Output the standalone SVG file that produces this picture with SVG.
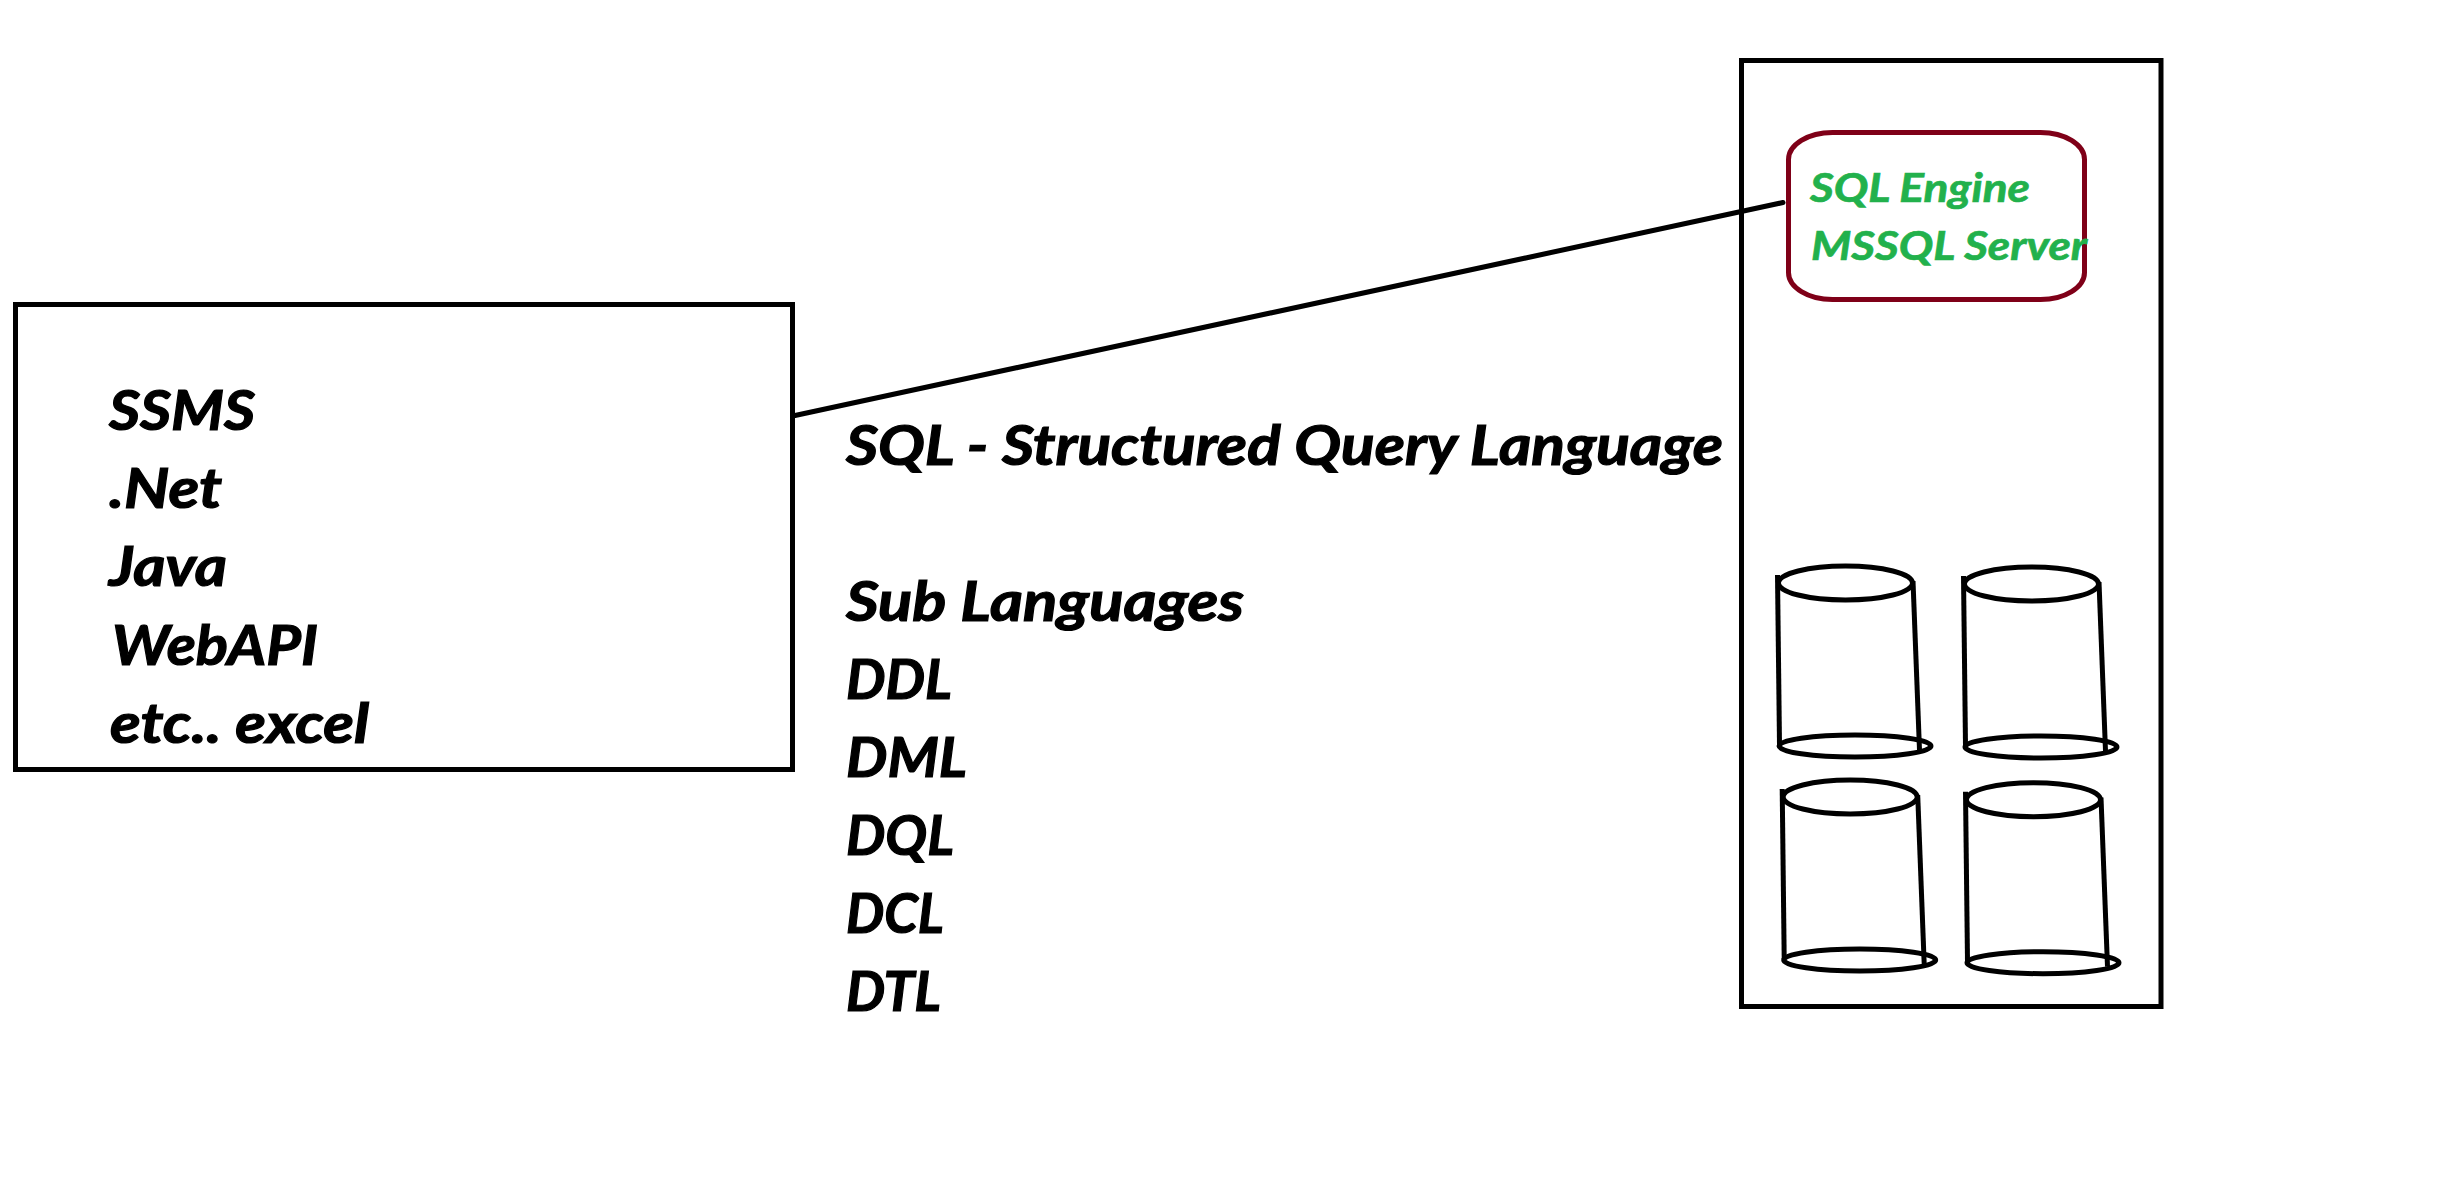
<svg xmlns="http://www.w3.org/2000/svg" width="2458" height="1196" viewBox="0 0 2458 1196">
<style>
text{font-family:"Lato","Carlito","Open Sans",sans-serif;font-weight:700;font-style:italic;fill:#000;stroke:#000;stroke-width:1.2;paint-order:stroke}
.big{font-size:56px}
.green{font-size:41px;fill:#22b14c;stroke:#22b14c;stroke-width:.7}
.box{fill:none;stroke:#000;stroke-width:5}
.line{fill:none;stroke:#000;stroke-width:5;stroke-linecap:round}
.cyl *{fill:none;stroke:#000;stroke-width:5}
</style>
<defs>
<g id="cylinder" class="cyl">
<ellipse cx="1845.5" cy="583" rx="67" ry="17"/>
<ellipse cx="1855" cy="746" rx="76" ry="11"/>
<path d="M1777.5 575L1779.5 745"/>
<path d="M1913 581L1919.5 750"/>
</g>
</defs>
<rect width="2458" height="1196" fill="#fff"/>
<g id="client-box">
<rect class="box" x="15.5" y="304.5" width="777" height="465"/>
<text class="big" x="109" y="430" textLength="146" lengthAdjust="spacingAndGlyphs">SSMS</text>
<text class="big" x="109" y="508" textLength="113" lengthAdjust="spacingAndGlyphs">.Net</text>
<text class="big" x="109" y="586" textLength="118" lengthAdjust="spacingAndGlyphs">Java</text>
<text class="big" x="112" y="665" textLength="206" lengthAdjust="spacingAndGlyphs">WebAPI</text>
<text class="big" x="110" y="743" textLength="259" lengthAdjust="spacingAndGlyphs">etc.. excel</text>
</g>
<g id="sql-text">
<text class="big" x="846" y="465.3" textLength="877" lengthAdjust="spacingAndGlyphs">SQL - Structured Query Language</text>
<text class="big" x="846" y="621" textLength="398" lengthAdjust="spacingAndGlyphs">Sub Languages</text>
<text class="big" x="846" y="699.3" textLength="106" lengthAdjust="spacingAndGlyphs">DDL</text>
<text class="big" x="846" y="777.3" textLength="121" lengthAdjust="spacingAndGlyphs">DML</text>
<text class="big" x="846" y="855.3" textLength="108" lengthAdjust="spacingAndGlyphs">DQL</text>
<text class="big" x="846" y="933.3" textLength="98" lengthAdjust="spacingAndGlyphs">DCL</text>
<text class="big" x="846" y="1011.3" textLength="95" lengthAdjust="spacingAndGlyphs">DTL</text>
</g>
<g id="server-box">
<rect class="box" x="1741.5" y="60.5" width="419.5" height="946"/>
</g>
<g id="sql-engine">
<rect x="1788.5" y="132.5" width="296" height="167" rx="44" ry="27" fill="none" stroke="#7f0018" stroke-width="5"/>
<text class="green" x="1810" y="202" textLength="220" lengthAdjust="spacingAndGlyphs">SQL Engine</text>
<text class="green" x="1811" y="260" textLength="276" lengthAdjust="spacingAndGlyphs">MSSQL Server</text>
</g>
<g id="db1"><use href="#cylinder"/></g>
<g id="db2"><use href="#cylinder" x="186" y="1"/></g>
<g id="db3"><use href="#cylinder" x="4.7" y="214"/></g>
<g id="db4"><use href="#cylinder" x="188" y="216.7"/></g>
<g id="connectors">
<path class="line" d="M795 415.5L1783 202.5"/>
</g>
</svg>
